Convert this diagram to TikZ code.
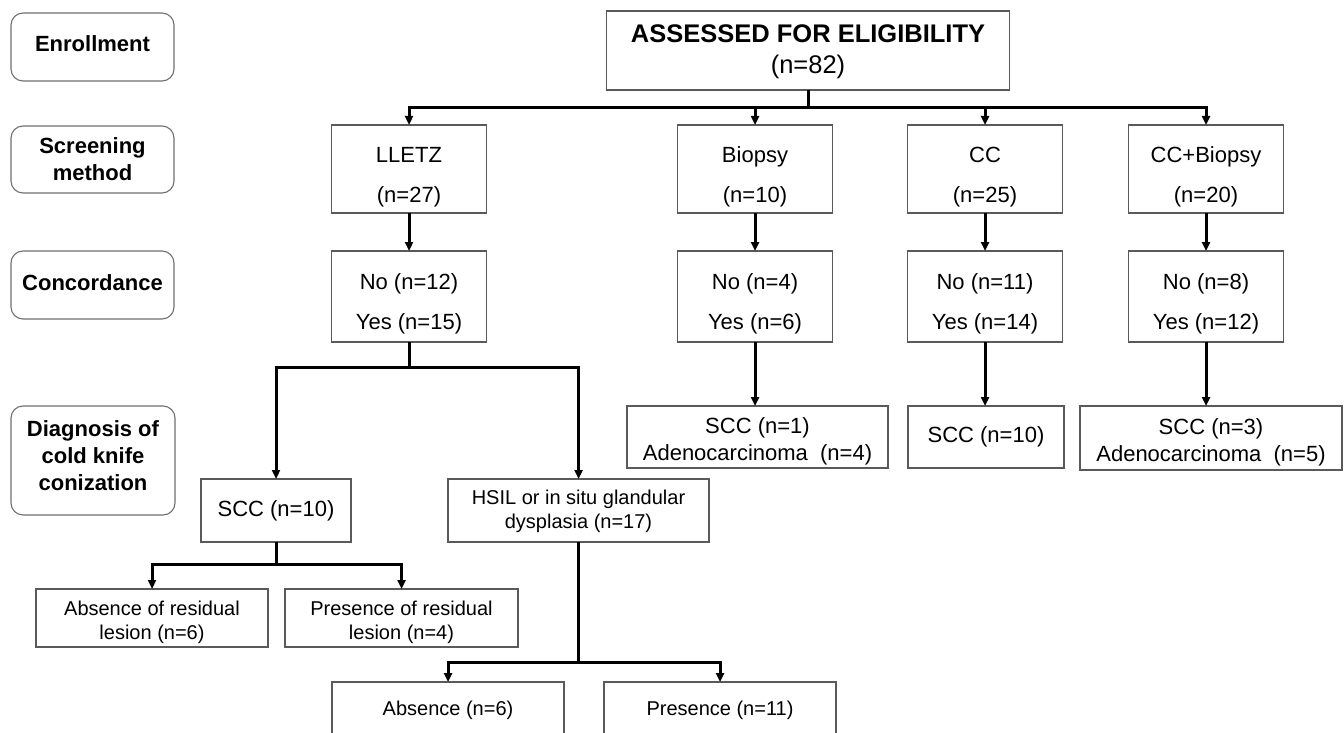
\documentclass[tikz,border=0pt]{standalone}
\usepackage{fontspec}
\setmainfont{Liberation Sans}
\usetikzlibrary{arrows.meta,calc}
\definecolor{boxgray}{HTML}{5A5A5A}
\definecolor{roundgray}{HTML}{707070}
\tikzset{
  every node/.style={inner sep=0pt, outer sep=0pt},
  sidebox/.style={draw=roundgray, line width=1.1pt, rounded corners=12pt},
  sidetext/.style={align=center, font=\fontsize{22}{27}\selectfont\bfseries},
  flowbox/.style={draw=boxgray, line width=1.2pt, fill=white},
  regtext/.style={align=center, font=\fontsize{22}{40}\selectfont},
  smalltext/.style={align=center, font=\fontsize{20}{24}\selectfont},
  diagtext/.style={align=center, font=\fontsize{22}{27}\selectfont},
  conn/.style={draw=black, line width=3pt},
  arr/.style={conn, -{Triangle[width=8pt,length=9pt]}},
}
\begin{document}
\begin{tikzpicture}[x=1pt,y=-1pt]
\useasboundingbox (0,0) rectangle (1344,733);
\fill[white] (0,0) rectangle (1344,733);
\begin{scope}
\clip (0,0) rectangle (1344,733);
% side labels
\node[sidebox, minimum width=163pt, minimum height=68pt] (enr) at (92.5,47) {};
\node[sidetext] (enr-t) at ([yshift=3pt]enr.center) {Enrollment};
\node[sidebox, minimum width=163pt, minimum height=67pt] (scr) at (92.5,159.5) {};
\node[sidetext] (scr-t) at ([yshift=0pt]scr.center) {Screening\\method};
\node[sidebox, minimum width=163pt, minimum height=68pt] (conc) at (92.5,285) {};
\node[sidetext] (conc-t) at ([yshift=2pt]conc.center) {Concordance};
\node[sidebox, minimum width=164pt, minimum height=109pt] (diag) at (93,460.5) {};
\node[sidetext] (diag-t) at ([yshift=5pt]diag.center) {Diagnosis of\\cold knife\\conization};

% top
\node[flowbox, minimum width=403pt, minimum height=79pt] (elig) at (808,50.5) {};
\node[align=center, font=\fontsize{25.5}{31}\selectfont] (elig-t) at ([yshift=-1pt]elig.center)
  {\textbf{ASSESSED FOR ELIGIBILITY}\\(n=82)};

% screening
\node[flowbox, minimum width=155pt, minimum height=88pt] (lletz) at (409,169) {};
\node[regtext] (lletz-t) at ([yshift=-8pt]lletz.center) {LLETZ\\(n=27)};
\node[flowbox, minimum width=155pt, minimum height=88pt] (biop) at (755,169) {};
\node[regtext] (biop-t) at ([yshift=-8pt]biop.center) {Biopsy\\(n=10)};
\node[flowbox, minimum width=155pt, minimum height=88pt] (cc) at (985,169) {};
\node[regtext] (cc-t) at ([yshift=-8pt]cc.center) {CC\\(n=25)};
\node[flowbox, minimum width=155pt, minimum height=88pt] (ccb) at (1206,169) {};
\node[regtext] (ccb-t) at ([yshift=-8pt]ccb.center) {CC+Biopsy\\(n=20)};

% concordance
\node[flowbox, minimum width=155pt, minimum height=91pt] (c1) at (409,296.5) {};
\node[regtext] (c1-t) at ([yshift=-7pt]c1.center) {No (n=12)\\Yes (n=15)};
\node[flowbox, minimum width=155pt, minimum height=91pt] (c2) at (755,296.5) {};
\node[regtext] (c2-t) at ([yshift=-7pt]c2.center) {No (n=4)\\Yes (n=6)};
\node[flowbox, minimum width=155pt, minimum height=91pt] (c3) at (985,296.5) {};
\node[regtext] (c3-t) at ([yshift=-7pt]c3.center) {No (n=11)\\Yes (n=14)};
\node[flowbox, minimum width=155pt, minimum height=91pt] (c4) at (1206,296.5) {};
\node[regtext] (c4-t) at ([yshift=-7pt]c4.center) {No (n=8)\\Yes (n=12)};

% diagnosis
\node[flowbox, minimum width=261pt, minimum height=62pt] (d2) at (757.5,437) {};
\node[diagtext] (d2-t) at ([yshift=-4pt]d2.center) {SCC (n=1)\\Adenocarcinoma\ \ (n=4)};
\node[flowbox, minimum width=156pt, minimum height=62pt] (d3) at (986,437) {};
\node[diagtext] (d3-t) at (d3.center) {SCC (n=10)};
\node[flowbox, minimum width=262pt, minimum height=64pt] (d4) at (1211,438) {};
\node[diagtext] (d4-t) at ([yshift=-4pt]d4.center) {SCC (n=3)\\Adenocarcinoma\ \ (n=5)};

\node[flowbox, minimum width=150pt, minimum height=63pt] (sccl) at (276,510.5) {};
\node[diagtext] (sccl-t) at (sccl.center) {SCC (n=10)};
\node[flowbox, minimum width=261pt, minimum height=63pt] (hsil) at (578.5,510.5) {};
\node[smalltext] (hsil-t) at ([yshift=-1pt]hsil.center) {HSIL or in situ glandular\\dysplasia (n=17)};

\node[flowbox, minimum width=232pt, minimum height=58pt] (abs1) at (152,618) {};
\node[smalltext] (abs1-t) at ([yshift=-4pt]abs1.center) {Absence of residual\\lesion (n=6)};
\node[flowbox, minimum width=233pt, minimum height=58pt] (pres1) at (401.5,618) {};
\node[smalltext] (pres1-t) at ([yshift=-4pt]pres1.center) {Presence of residual\\lesion (n=4)};

\node[flowbox, minimum width=232pt, minimum height=58pt] (abs2) at (448,711) {};
\node[smalltext] (abs2-t) at ([yshift=1pt]abs2.center) {Absence (n=6)};
\node[flowbox, minimum width=232pt, minimum height=58pt] (pres2) at (720,711) {};
\node[smalltext] (pres2-t) at ([yshift=1pt]pres2.center) {Presence (n=11)};

% connectors
\draw[arr] (elig.south) -- ++(0,17.5) -| (lletz.north);
\draw[arr] (elig.south) -- ++(0,17.5) -| (biop.north);
\draw[arr] (elig.south) -- ++(0,17.5) -| (cc.north);
\draw[arr] (elig.south) -- ++(0,17.5) -| (ccb.north);

\draw[arr] (lletz.south) -- (c1.north);
\draw[arr] (biop.south) -- (c2.north);
\draw[arr] (cc.south) -- (c3.north);
\draw[arr] (ccb.south) -- (c4.north);

\draw[arr] (c2.south) -- (c2.south |- d2.north);
\draw[arr] (c3.south) -- (c3.south |- d3.north);
\draw[arr] (c4.south) -- (c4.south |- d4.north);

\draw[arr] (c1.south) -- ++(0,25) -| (sccl.north);
\draw[arr] (c1.south) -- ++(0,25) -| (hsil.north);

\draw[arr] (sccl.south) -- ++(0,22) -| (abs1.north);
\draw[arr] (sccl.south) -- ++(0,22) -| (pres1.north);

\draw[arr] (hsil.south) -- ++(0,120) -| (abs2.north);
\draw[arr] (hsil.south) -- ++(0,120) -| (pres2.north);
\end{scope}
\end{tikzpicture}
\end{document}
